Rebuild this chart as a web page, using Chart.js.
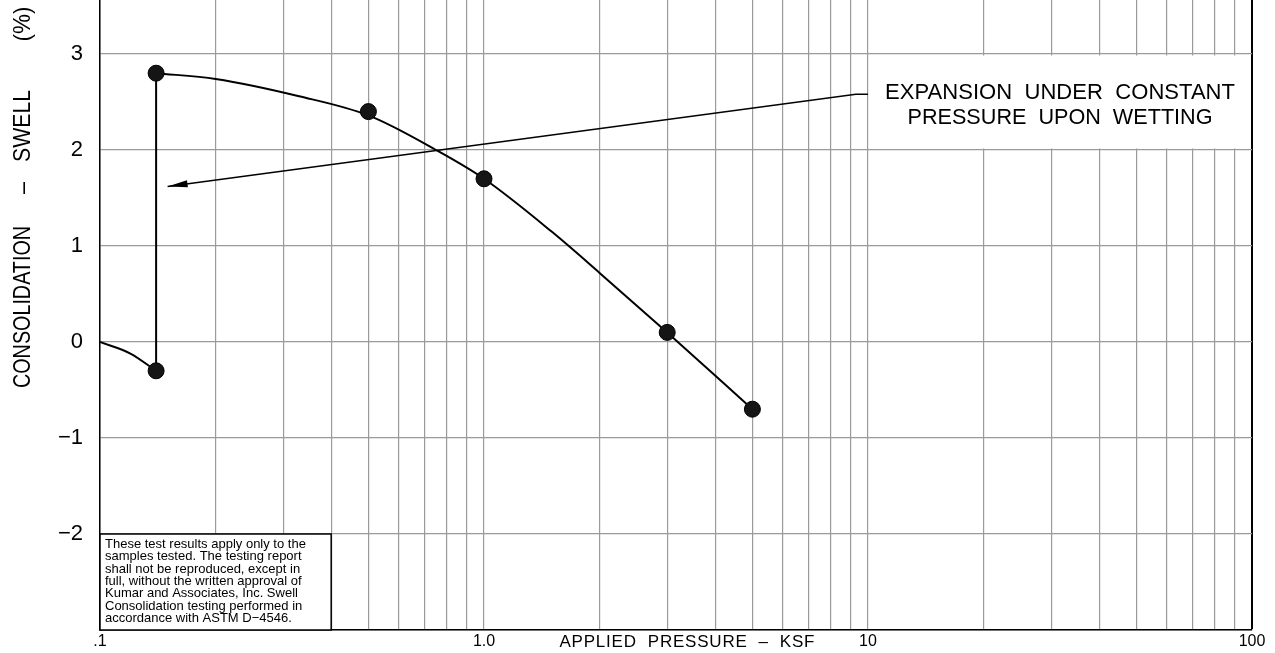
<!DOCTYPE html>
<html>
<head>
<meta charset="utf-8">
<title>Swell Consolidation Test</title>
<script src="https://cdn.jsdelivr.net/npm/chart.js@4.4.1/dist/chart.umd.min.js"></script>
<style>
  html, body { margin: 0; padding: 0; background: #fff; }
  canvas { display: block; }
</style>
</head>
<body>
<canvas id="swellChart" width="1275" height="653"></canvas>
<script>
// measured test points (pressure in ksf, swell in %)
var pressure = [0.14, 0.14, 0.5, 1.0, 3.0, 5.0];
var swell = [-0.3, 2.8, 2.4, 1.7, 0.1, -0.7];

// hand drawn curve
var seatingX = [0.1, 0.12, 0.14];
var seatingY = [0, -0.12, -0.3];
var wettingX = [0.14, 0.14];
var wettingY = [-0.3, 2.8];
var loadX = [0.14, 0.2, 0.33, 0.5, 0.75, 1.0, 1.5, 2.0, 3.0, 5.0];
var loadY = [2.8, 2.74, 2.56, 2.36, 2.0, 1.7, 1.15, 0.72, 0.1, -0.7];

// axes
var xGrid = [0.1, 0.2, 0.3, 0.4, 0.5, 0.6, 0.7, 0.8, 0.9,
             1, 2, 3, 4, 5, 6, 7, 8, 9,
             10, 20, 30, 40, 50, 60, 70, 80, 90, 100];
var xLabelValues = [0.1, 1, 10, 100];
var xLabelText = ['.1', '1.0', '10', '100'];
var yGrid = [-3, -2, -1, 0, 1, 2, 3];
var yLabelValues = [-2, -1, 0, 1, 2, 3];

// note + arrow (data coordinates)
var arrowTip = [0.15, 1.62];
var leaderKnee = [9.3, 2.58];
var noteBoxX = [10, 100];
var noteBoxY = [2, 3];
var noteLines = ['EXPANSION  UNDER  CONSTANT', 'PRESSURE  UPON  WETTING'];

var disclaimerBoxX = [0.1, 0.4];
var disclaimerBoxY = [-3, -2];
var disclaimer = [
    'These test results apply only to the',
    'samples tested. The testing report',
    'shall not be reproduced, except in',
    'full, without the written approval of',
    'Kumar and Associates, Inc. Swell',
    'Consolidation testing performed in',
    'accordance with ASTM D\u22124546.'
];

var FONT = '"Liberation Sans", Arial, sans-serif';

function pairs(xs, ys) {
    return xs.map(function(v, i) { return {x: v, y: ys[i]}; });
}

// draw text centred on cx and fitted to a width (condense or spread)
function fitText(ctx, text, cx, cy, width) {
    ctx.letterSpacing = '0px';
    ctx.textAlign = 'left';
    var w = ctx.measureText(text).width;
    ctx.save();
    if (w > width) {
        ctx.translate(cx - width / 2, cy);
        ctx.scale(width / w, 1);
        ctx.fillText(text, 0, 0);
    } else {
        var extra = (width - w) / Math.max(text.length - 1, 1);
        ctx.letterSpacing = extra + 'px';
        ctx.fillText(text, cx - width / 2, cy);
    }
    ctx.restore();
    ctx.letterSpacing = '0px';
}

var sheet = {
    id: 'sheet',
    beforeDatasetsDraw: function(chart) {
        var ctx = chart.ctx, xs = chart.scales.x, ys = chart.scales.y;
        ctx.save();
        ctx.fillStyle = '#fff';
        var l = xs.getPixelForValue(noteBoxX[0]) + 1.5;
        var r = xs.getPixelForValue(noteBoxX[1]) - 1.5;
        var t = ys.getPixelForValue(noteBoxY[1]) + 1.5;
        var b = ys.getPixelForValue(noteBoxY[0]) - 1.5;
        ctx.fillRect(l, t, r - l, b - t);

        // disclaimer box
        l = xs.getPixelForValue(disclaimerBoxX[0]);
        r = xs.getPixelForValue(disclaimerBoxX[1]);
        t = ys.getPixelForValue(disclaimerBoxY[1]);
        b = ys.getPixelForValue(disclaimerBoxY[0]);
        ctx.fillRect(l, t, r - l, b - t);
        ctx.strokeStyle = '#000';
        ctx.lineWidth = 1.5;
        ctx.strokeRect(l, t, r - l, b - t);
        ctx.fillStyle = '#000';
        ctx.font = '13px ' + FONT;
        ctx.textAlign = 'left';
        ctx.textBaseline = 'alphabetic';
        disclaimer.forEach(function(line, i) {
            ctx.fillText(line, l + 5, t + 14 + i * 12.3, 220);
        });
        ctx.restore();
    },
    afterDatasetsDraw: function(chart) {
        var ctx = chart.ctx, xs = chart.scales.x, ys = chart.scales.y;
        ctx.save();
        ctx.strokeStyle = '#000';
        ctx.fillStyle = '#000';
        ctx.lineWidth = 1.5;

        // leader + arrow
        var tx = xs.getPixelForValue(arrowTip[0]), ty = ys.getPixelForValue(arrowTip[1]);
        var kx = xs.getPixelForValue(leaderKnee[0]), ky = ys.getPixelForValue(leaderKnee[1]);
        var ex = xs.getPixelForValue(noteBoxX[0]);
        ctx.beginPath();
        ctx.moveTo(ex, ky);
        ctx.lineTo(kx, ky);
        ctx.lineTo(tx, ty);
        ctx.stroke();
        var ang = Math.atan2(ky - ty, kx - tx);
        var len = 20, half = 3.5;
        ctx.beginPath();
        ctx.moveTo(tx, ty);
        ctx.lineTo(tx + len * Math.cos(ang) - half * Math.sin(ang), ty + len * Math.sin(ang) + half * Math.cos(ang));
        ctx.lineTo(tx + len * Math.cos(ang) + half * Math.sin(ang), ty + len * Math.sin(ang) - half * Math.cos(ang));
        ctx.closePath();
        ctx.fill();

        // note text
        ctx.font = '22px ' + FONT;
        ctx.textBaseline = 'alphabetic';
        fitText(ctx, noteLines[0], 1060, 99, 350);
        fitText(ctx, noteLines[1], 1060, 124, 305);

        // x axis title
        ctx.font = '17px ' + FONT;
        fitText(ctx, 'APPLIED  PRESSURE  \u2013  KSF', 687, 647, 255);

        // y axis title
        ctx.font = '24px ' + FONT;
        ctx.textBaseline = 'middle';
        ctx.translate(23, 0);
        ctx.rotate(-Math.PI / 2);
        fitText(ctx, 'CONSOLIDATION', -307, 0, 162);
        fitText(ctx, '\u2013', -188, 0, 12);
        fitText(ctx, 'SWELL', -126, 0, 72);
        fitText(ctx, '(%)', -24, 0, 35);
        ctx.restore();
    }
};

var ctx = document.getElementById('swellChart').getContext('2d');
var swellChart = new Chart(ctx, {
    type: 'scatter',
    data: {
        datasets: [{
            label: 'Test points',
            data: pairs(pressure, swell),
            pointRadius: 8,
            pointBackgroundColor: '#151515',
            pointBorderColor: '#000',
            pointBorderWidth: 1,
            showLine: false,
            order: 0
        }, {
            label: 'Seating',
            data: pairs(seatingX, seatingY),
            showLine: true,
            pointRadius: 0,
            borderColor: '#000',
            borderWidth: 2,
            cubicInterpolationMode: 'monotone',
            order: 1
        }, {
            label: 'Wetting',
            data: pairs(wettingX, wettingY),
            showLine: true,
            pointRadius: 0,
            borderColor: '#000',
            borderWidth: 2,
            order: 1
        }, {
            label: 'Loading',
            data: pairs(loadX, loadY),
            showLine: true,
            pointRadius: 0,
            borderColor: '#000',
            borderWidth: 2,
            cubicInterpolationMode: 'monotone',
            order: 1
        }]
    },
    options: {
        responsive: false,
        animation: false,
        layout: { autoPadding: false, padding: { left: 0, right: 23, top: 0, bottom: 0 } },
        plugins: {
            legend: { display: false },
            tooltip: { enabled: false }
        },
        scales: {
            x: {
                type: 'logarithmic',
                min: 0.1,
                max: 100,
                afterBuildTicks: function(scale) {
                    scale.ticks = xGrid.map(function(v) { return {value: v}; });
                },
                afterFit: function(scale) {
                    scale.height = 23;
                    scale.paddingLeft = 0;
                    scale.paddingRight = 0;
                },
                ticks: {
                    autoSkip: false,
                    maxRotation: 0,
                    padding: 2,
                    color: '#000',
                    font: { family: FONT, size: 16 },
                    callback: function(value) {
                        var i = xLabelValues.indexOf(value);
                        return i >= 0 ? xLabelText[i] : '';
                    }
                },
                grid: {
                    drawTicks: false,
                    color: function(c) { return c.tick && c.tick.value === 100 ? '#000' : '#9a9a9a'; },
                    lineWidth: function(c) { return c.tick && c.tick.value === 100 ? 2 : 1.2; }
                },
                border: { color: '#000', width: 1.5 }
            },
            y: {
                min: -3,
                max: 3.5625,
                afterBuildTicks: function(scale) {
                    scale.ticks = yGrid.map(function(v) { return {value: v}; });
                },
                afterFit: function(scale) {
                    scale.width = 100;
                    scale.paddingTop = 0;
                    scale.paddingBottom = 0;
                },
                ticks: {
                    padding: 17,
                    color: '#000',
                    font: { family: FONT, size: 22 },
                    callback: function(value) {
                        if (yLabelValues.indexOf(value) < 0) return '';
                        return value < 0 ? '\u2212' + Math.abs(value) : String(value);
                    }
                },
                grid: {
                    drawTicks: false,
                    color: '#9a9a9a',
                    lineWidth: 1.2
                },
                border: { color: '#000', width: 1.5 }
            }
        }
    },
    plugins: [sheet]
});
</script>
</body>
</html>
